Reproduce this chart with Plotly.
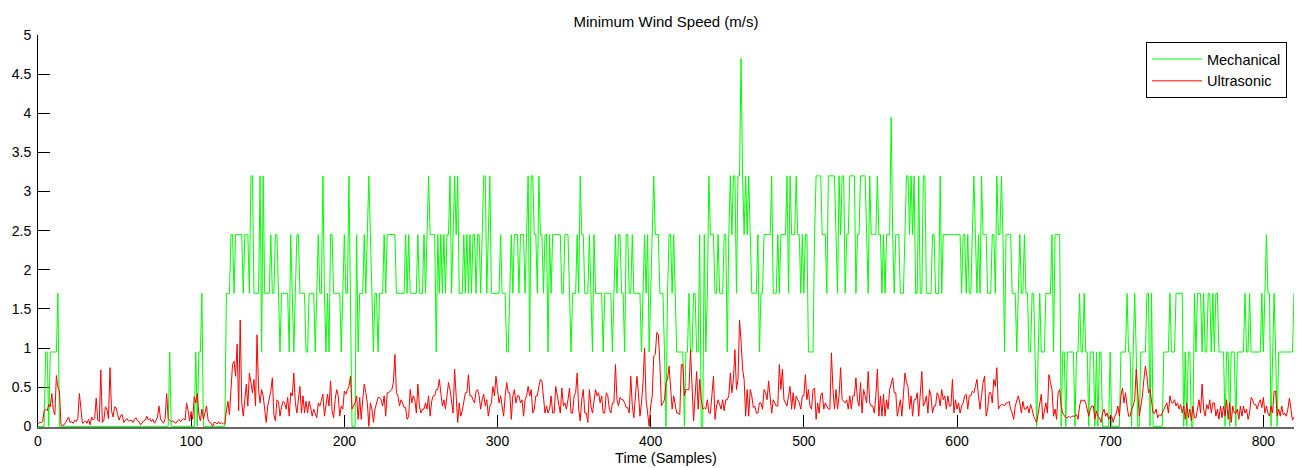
import plotly.graph_objects as go

# ---- data ----
TITLE = "Minimum Wind Speed (m/s)"
X_LABEL = "Time (Samples)"
SERIES_NAMES = ["Mechanical", "Ultrasonic"]

MECHANICAL = [
    0, 0, 0, 0, 0, 0.95, 0.95, 0, 0.95, 0.95,
    0.95, 0.95, 0.95, 1.7, 0, 0, 0, 0, 0, 0,
    0, 0, 0, 0, 0, 0, 0, 0, 0, 0,
    0, 0, 0, 0, 0, 0, 0, 0, 0, 0,
    0, 0, 0, 0, 0, 0, 0, 0, 0, 0,
    0, 0, 0, 0, 0, 0, 0, 0, 0, 0,
    0, 0, 0, 0, 0, 0, 0, 0, 0, 0,
    0, 0, 0, 0, 0, 0, 0, 0, 0, 0,
    0, 0, 0, 0, 0, 0, 0.95, 0, 0, 0,
    0, 0, 0, 0, 0, 0, 0, 0, 0, 0,
    0, 0, 0, 0.95, 0, 0.95, 0.95, 1.7, 0, 0,
    0, 0, 0, 0, 0, 0, 0, 0, 0, 0,
    0, 0, 0, 1.7, 1.7, 1.7, 2.45, 2.45, 1.7, 2.45,
    2.45, 2.45, 2.45, 2.45, 1.7, 2.45, 2.45, 2.45, 1.7, 3.2,
    3.2, 1.7, 1.7, 1.7, 1.7, 3.2, 0.95, 3.2, 1.7, 1.7,
    1.7, 1.7, 2.45, 1.7, 1.7, 2.45, 2.45, 1.7, 0.95, 1.7,
    1.7, 1.7, 1.7, 1.7, 0.95, 2.45, 1.7, 0.95, 1.7, 2.45,
    2.45, 1.7, 1.7, 1.7, 1.7, 0.95, 0.95, 1.7, 1.7, 1.7,
    1.7, 0.95, 1.7, 2.45, 1.7, 1.7, 3.2, 1.7, 0.95, 1.7,
    0.95, 2.45, 2.45, 1.7, 1.7, 1.7, 1.7, 1.7, 0.95, 1.7,
    2.45, 1.7, 1.7, 3.2, 1.7, 0, 0, 0, 2.45, 0.95,
    1.7, 1.7, 1.7, 2.45, 1.7, 2.45, 3.2, 2.45, 1.7, 0.95,
    1.7, 1.7, 0.95, 1.7, 1.7, 1.7, 2.45, 1.7, 2.45, 2.45,
    2.45, 2.45, 2.45, 2.45, 1.7, 1.7, 1.7, 1.7, 1.7, 1.7,
    2.45, 1.7, 2.45, 1.7, 1.7, 1.7, 1.7, 1.7, 2.45, 1.7,
    1.7, 1.7, 2.45, 1.7, 2.45, 3.2, 2.45, 2.45, 2.45, 2.45,
    0.95, 2.45, 1.7, 2.45, 1.7, 2.45, 1.7, 2.45, 2.45, 3.2,
    1.7, 2.45, 3.2, 2.45, 3.2, 1.7, 1.7, 1.7, 2.45, 1.7,
    2.45, 1.7, 2.45, 1.7, 2.45, 2.45, 1.7, 2.45, 2.45, 1.7,
    2.45, 3.2, 3.2, 1.7, 2.45, 3.2, 1.7, 1.7, 1.7, 1.7,
    1.7, 1.7, 2.45, 1.7, 1.7, 1.7, 0.95, 0.95, 1.7, 2.45,
    1.7, 2.45, 2.45, 2.45, 1.7, 2.45, 2.45, 2.45, 1.7, 2.45,
    3.2, 0.95, 3.2, 3.2, 2.45, 2.45, 1.7, 3.2, 2.45, 2.45,
    1.7, 2.45, 2.45, 0.95, 2.45, 1.7, 2.45, 2.45, 2.45, 2.45,
    2.45, 2.45, 1.7, 1.7, 2.45, 2.45, 2.45, 1.7, 0.95, 1.7,
    1.7, 1.7, 2.45, 1.7, 3.2, 2.45, 2.45, 1.7, 1.7, 1.7,
    2.45, 1.7, 0.95, 2.45, 1.7, 1.7, 1.7, 1.7, 1.7, 0.95,
    1.7, 1.7, 1.7, 1.7, 1.7, 0.95, 1.7, 2.45, 1.7, 2.45,
    2.45, 1.7, 1.7, 0.95, 2.45, 2.45, 1.7, 1.7, 2.45, 1.7,
    1.7, 1.7, 1.7, 1.7, 0.95, 1.7, 2.45, 1.7, 2.45, 0.95,
    1.7, 2.45, 3.2, 2.45, 2.45, 2.45, 1.7, 1.7, 1.7, 0.95,
    0, 1.7, 2.45, 2.45, 1.7, 2.45, 1.7, 0.95, 0.95, 0.95,
    0.95, 0.95, 0, 0.95, 0.95, 1.7, 0.95, 0.95, 1.7, 1.7,
    0.95, 0.95, 2.45, 0, 0, 2.45, 0.95, 1.7, 3.2, 2.45,
    2.45, 2.45, 1.7, 1.7, 2.45, 1.7, 1.7, 1.7, 2.45, 2.45,
    0.95, 2.45, 3.2, 2.45, 3.2, 3.2, 1.7, 3.2, 3.2, 4.7,
    3.2, 2.45, 3.2, 2.45, 3.2, 2.45, 1.7, 1.7, 1.7, 1.7,
    2.45, 0.95, 1.7, 1.7, 2.45, 2.45, 2.45, 2.45, 2.45, 3.2,
    1.7, 1.7, 1.7, 2.45, 1.7, 2.45, 2.45, 2.45, 2.45, 3.2,
    1.7, 3.2, 2.45, 2.45, 2.45, 3.2, 2.45, 2.45, 1.7, 2.45,
    1.7, 2.45, 2.45, 0.95, 0.95, 0.95, 0.95, 2.45, 3.2, 3.2,
    3.2, 3.2, 2.45, 2.45, 2.45, 1.7, 3.2, 3.2, 3.2, 3.2,
    3.2, 2.45, 1.7, 3.2, 2.45, 3.2, 3.2, 1.7, 2.45, 2.45,
    3.2, 3.2, 3.2, 3.2, 1.7, 2.45, 2.45, 3.2, 3.2, 3.2,
    3.2, 2.45, 1.7, 3.2, 2.45, 2.45, 2.45, 2.45, 3.2, 2.45,
    2.45, 1.7, 2.45, 1.7, 2.45, 2.45, 2.45, 3.95, 2.45, 1.7,
    2.45, 2.45, 2.45, 1.7, 1.7, 1.7, 2.45, 3.2, 3.2, 2.45,
    3.2, 2.45, 3.2, 1.7, 1.7, 3.2, 1.7, 1.7, 3.2, 3.2,
    1.7, 1.7, 1.7, 1.7, 2.45, 2.45, 1.7, 1.7, 1.7, 3.2,
    1.7, 2.45, 2.45, 2.45, 2.45, 2.45, 2.45, 2.45, 2.45, 2.45,
    2.45, 2.45, 2.45, 1.7, 2.45, 2.45, 1.7, 2.45, 1.7, 1.7,
    2.45, 3.2, 2.45, 1.7, 2.45, 1.7, 3.2, 2.45, 2.45, 2.45,
    1.7, 1.7, 1.7, 2.45, 2.45, 1.7, 3.2, 2.45, 2.45, 3.2,
    2.45, 0.95, 2.45, 2.45, 2.45, 2.45, 1.7, 1.7, 1.7, 0.95,
    1.7, 2.45, 1.7, 1.7, 2.45, 1.7, 1.7, 0.95, 0.95, 1.7,
    1.7, 0.95, 0, 0.95, 1.7, 0.95, 0.95, 0.95, 1.7, 1.7,
    1.7, 1.7, 2.45, 0.95, 2.45, 2.45, 2.45, 2.45, 0, 0.95,
    0.95, 0, 0.95, 0.95, 0.95, 0.95, 0.95, 0, 0.95, 0.95,
    1.7, 0.95, 0.95, 1.7, 0.95, 0.95, 0, 0.95, 0.95, 0.95,
    0, 0.95, 0, 0.95, 0.95, 0, 0, 0, 0, 0,
    0.95, 0, 0, 0, 0, 0, 0, 0.95, 0.95, 0.95,
    0.95, 1.7, 0.95, 0.95, 0, 0.95, 1.7, 0.95, 0, 0,
    0.95, 0.95, 0.95, 0.95, 1.7, 1.7, 0, 1.7, 0, 0,
    0, 0, 0, 0, 0, 0.95, 0.95, 0.95, 0.95, 1.7,
    0.95, 0.95, 0.95, 1.7, 1.7, 1.7, 1.7, 1.7, 0, 0.95,
    0, 0.95, 0.95, 0, 0, 1.7, 0.95, 1.7, 1.7, 1.7,
    0.95, 1.7, 0.95, 0.95, 1.7, 1.7, 0.95, 1.7, 0.95, 1.7,
    1.7, 0.95, 0.95, 0.95, 0.95, 0, 0.95, 0.95, 0, 0.95,
    0.95, 0.95, 0, 0.95, 0.95, 0.95, 0.95, 0.95, 1.7, 0.95,
    0.95, 1.7, 0.95, 0.95, 0.95, 0.95, 0.95, 0.95, 0.95, 1.7,
    0.95, 1.7, 2.45, 1.7, 1.7, 0, 0.95, 1.7, 0.95, 0,
    0.95, 0.95, 0.95, 0.95, 0.95, 0.95, 0.95, 0.95, 0.95, 0.95,
    1.7,
]

ULTRASONIC = [
    0.03, 0.05, 0.05, 0.06, 0.2, 0.22, 0.2, 0.28, 0.25, 0.42,
    0.2, 0.15, 0.65, 0.5, 0.45, 0.02, 0.01, 0.02, 0.05, 0.08,
    0.12, 0.05, 0.06, 0.04, 0.08, 0.06, 0.1, 0.42, 0.18, 0.04,
    0.05, 0.07, 0.04, 0.09, 0.02, 0.12, 0.08, 0.1, 0.36, 0.08,
    0.06, 0.72, 0.05, 0.08, 0.25, 0.22, 0.1, 0.75, 0.2, 0.12,
    0.25, 0.24, 0.15, 0.08, 0.14, 0.15, 0.05, 0.07, 0.1, 0.07,
    0.07, 0.08, 0.05, 0.09, 0.11, 0.07, 0.06, 0.02, 0.05, 0.07,
    0.08, 0.13, 0.08, 0.1, 0.06, 0.09, 0.04, 0.07, 0.12, 0.26,
    0.09, 0.06, 0.04, 0.1, 0.42, 0.1, 0.08, 0.06, 0.07, 0.06,
    0.04, 0.07, 0.09, 0.06, 0.08, 0.1, 0.08, 0.3, 0.2, 0.07,
    0.19, 0.09, 0.38, 0.3, 0.42, 0.15, 0.07, 0.22, 0.09, 0.2,
    0.26, 0.09, 0.05, 0.04, 0.0, 0.05, 0.05, 0.03, 0.06, 0.03,
    0.05, 0.03, 0.03, 0.2, 0.32, 0.15, 0.56, 0.79, 0.83, 0.64,
    1.05, 0.2, 1.36, 0.3, 0.13, 0.39, 0.54, 0.26, 0.68, 0.56,
    0.43, 0.6, 0.26, 1.17, 0.47, 0.3, 0.47, 0.39, 0.17, 0.05,
    0.26, 0.34, 0.45, 0.62, 0.15, 0.07, 0.34, 0.32, 0.13, 0.25,
    0.32, 0.3, 0.22, 0.37, 0.13, 0.43, 0.39, 0.68, 0.3, 0.17,
    0.35, 0.51, 0.17, 0.39, 0.17, 0.32, 0.17, 0.32, 0.24, 0.13,
    0.22, 0.17, 0.11, 0.3, 0.26, 0.33, 0.41, 0.13, 0.3, 0.41,
    0.26, 0.58, 0.2, 0.11, 0.34, 0.47, 0.39, 0.13, 0.26, 0.22,
    0.45, 0.41, 0.47, 0.51, 0.64, 0.22, 0.26, 0.3, 0.39, 0.09,
    0.37, 0.09, 0.34, 0.54, 0.43, 0.3, 0.0, 0.3, 0.22, 0.05,
    0.22, 0.3, 0.37, 0.37, 0.34, 0.26, 0.39, 0.13, 0.43, 0.43,
    0.45, 0.47, 0.56, 0.92, 0.43, 0.39, 0.26, 0.34, 0.3, 0.24,
    0.24, 0.09, 0.13, 0.47, 0.3, 0.39, 0.34, 0.17, 0.54, 0.26,
    0.17, 0.22, 0.22, 0.3, 0.22, 0.39, 0.13, 0.32, 0.39, 0.39,
    0.47, 0.47, 0.6, 0.43, 0.26, 0.34, 0.22, 0.39, 0.56, 0.47,
    0.3, 0.17, 0.73, 0.43, 0.05, 0.3, 0.13, 0.2, 0.34, 0.43,
    0.43, 0.66, 0.39, 0.39, 0.34, 0.3, 0.45, 0.47, 0.39, 0.22,
    0.34, 0.41, 0.26, 0.34, 0.13, 0.26, 0.3, 0.51, 0.39, 0.64,
    0.47, 0.3, 0.39, 0.22, 0.13, 0.39, 0.56, 0.43, 0.43, 0.09,
    0.39, 0.47, 0.3, 0.39, 0.39, 0.3, 0.34, 0.13, 0.34, 0.39,
    0.51, 0.39, 0.47, 0.17, 0.22, 0.39, 0.39, 0.51, 0.6, 0.58,
    0.39, 0.17, 0.26, 0.17, 0.22, 0.39, 0.17, 0.17, 0.51, 0.39,
    0.3, 0.17, 0.49, 0.26, 0.3, 0.22, 0.34, 0.49, 0.17, 0.17,
    0.39, 0.43, 0.68, 0.22, 0.07, 0.34, 0.47, 0.17, 0.17, 0.05,
    0.47, 0.26, 0.17, 0.34, 0.47, 0.39, 0.43, 0.3, 0.39, 0.17,
    0.17, 0.43, 0.39, 0.22, 0.17, 0.3, 0.3, 0.79, 0.34, 0.26,
    0.37, 0.34, 0.34, 0.3, 0.24, 0.24, 0.17, 0.64, 0.26, 0.11,
    0.39, 0.64, 0.43, 0.13, 0.3, 0.56, 1.0, 0.34, 0.17, 0.0,
    0.26, 0.39, 0.9, 0.92, 1.2, 1.17, 0.81, 0.26, 0.3, 0.34,
    0.56, 0.6, 0.77, 0.47, 0.22, 0.39, 0.3, 0.17, 0.17, 0.15,
    0.79, 0.79, 0.39, 0.47, 0.47, 0.47, 0.98, 0.51, 0.07, 0.39,
    0.7, 0.22, 0.6, 0.34, 0.22, 0.24, 0.22, 0.34, 0.17, 0.17,
    0.43, 0.64, 0.09, 0.26, 0.34, 0.26, 0.22, 0.34, 0.2, 0.34,
    0.34, 0.39, 0.68, 0.43, 0.6, 0.98, 0.47, 0.6, 1.36, 1.09,
    0.73, 0.6, 0.13, 0.47, 0.13, 0.47, 0.39, 0.24, 0.26, 0.17,
    0.17, 0.3, 0.3, 0.22, 0.47, 0.43, 0.34, 0.58, 0.39, 0.17,
    0.34, 0.3, 0.26, 0.26, 0.79, 0.47, 0.73, 0.34, 0.3, 0.26,
    0.39, 0.51, 0.22, 0.43, 0.22, 0.39, 0.34, 0.3, 0.22, 0.39,
    0.39, 0.66, 0.34, 0.47, 0.26, 0.22, 0.47, 0.49, 0.09, 0.3,
    0.17, 0.39, 0.43, 0.22, 0.3, 0.26, 0.22, 0.22, 0.94, 0.47,
    0.22, 0.47, 0.22, 0.39, 0.75, 0.34, 0.32, 0.3, 0.34, 0.22,
    0.39, 0.22, 0.39, 0.39, 0.62, 0.34, 0.26, 0.56, 0.17, 0.47,
    0.39, 0.3, 0.7, 0.3, 0.26, 0.26, 0.17, 0.39, 0.73, 0.13,
    0.39, 0.13, 0.41, 0.13, 0.34, 0.22, 0.47, 0.56, 0.62, 0.43,
    0.43, 0.13, 0.26, 0.34, 0.13, 0.43, 0.68, 0.56, 0.51, 0.22,
    0.39, 0.13, 0.34, 0.34, 0.43, 0.13, 0.39, 0.7, 0.26, 0.3,
    0.39, 0.17, 0.47, 0.39, 0.17, 0.26, 0.26, 0.43, 0.39, 0.26,
    0.47, 0.34, 0.39, 0.22, 0.39, 0.26, 0.26, 0.6, 0.17, 0.34,
    0.22, 0.3, 0.17, 0.26, 0.3, 0.39, 0.41, 0.22, 0.39, 0.39,
    0.45, 0.43, 0.51, 0.6, 0.39, 0.22, 0.39, 0.56, 0.64, 0.13,
    0.22, 0.43, 0.43, 0.3, 0.6, 0.51, 0.75, 0.22, 0.26, 0.28,
    0.28, 0.26, 0.3, 0.3, 0.32, 0.22, 0.17, 0.09, 0.26, 0.34,
    0.39, 0.3, 0.17, 0.32, 0.22, 0.22, 0.26, 0.17, 0.28, 0.22,
    0.13, 0.09, 0.05, 0.17, 0.3, 0.41, 0.09, 0.22, 0.3, 0.17,
    0.66, 0.56, 0.47, 0.13, 0.22, 0.09, 0.43, 0.47, 0.26, 0.17,
    0.13, 0.11, 0.11, 0.13, 0.11, 0.13, 0.13, 0.13, 0.15, 0.09,
    0.26, 0.34, 0.32, 0.34, 0.3, 0.22, 0.13, 0.22, 0.26, 0.26,
    0.09, 0.2, 0.13, 0.11, 0.05, 0.17, 0.22, 0.13, 0.17, 0.09,
    0.13, 0.13, 0.05, 0.13, 0.17, 0.26, 0.13, 0.39, 0.49, 0.3,
    0.43, 0.26, 0.13, 0.13, 0.22, 0.26, 0.34, 0.73, 0.47, 0.13,
    0.26, 0.39, 0.6, 0.77, 0.64, 0.43, 0.47, 0.3, 0.17, 0.17,
    0.22, 0.11, 0.15, 0.13, 0.17, 0.22, 0.26, 0.3, 0.17, 0.39,
    0.3, 0.3, 0.34, 0.26, 0.3, 0.22, 0.28, 0.17, 0.26, 0.09,
    0.3, 0.11, 0.22, 0.07, 0.26, 0.11, 0.11, 0.22, 0.34, 0.17,
    0.54, 0.22, 0.13, 0.28, 0.22, 0.34, 0.17, 0.3, 0.3, 0.13,
    0.22, 0.09, 0.26, 0.11, 0.26, 0.13, 0.34, 0.09, 0.3, 0.05,
    0.26, 0.17, 0.17, 0.22, 0.09, 0.26, 0.13, 0.26, 0.17, 0.22,
    0.09, 0.17, 0.37, 0.34, 0.28, 0.28, 0.22, 0.3, 0.34, 0.24,
    0.37, 0.17, 0.26, 0.17, 0.13, 0.26, 0.17, 0.45, 0.45, 0.13,
    0.22, 0.13, 0.26, 0.15, 0.17, 0.13, 0.22, 0.36, 0.2, 0.08,
    0.12,
]

SAMPLES = list(range(len(MECHANICAL)))

X_TICKS = [0, 100, 200, 300, 400, 500, 600, 700, 800]
Y_TICKS = [0, 0.5, 1, 1.5, 2, 2.5, 3, 3.5, 4, 4.5, 5]
Y_TICK_TEXT = ["0", "0.5", "1", "1.5", "2", "2.5", "3", "3.5", "4", "4.5", "5"]

FONT = "Liberation Sans, Arial, Helvetica, sans-serif"

fig = go.Figure()
fig.add_trace(go.Scatter(x=SAMPLES, y=MECHANICAL, mode="lines", name=SERIES_NAMES[0],
                         line=dict(color="#00ff00", width=1)))
fig.add_trace(go.Scatter(x=list(range(len(ULTRASONIC))), y=ULTRASONIC, mode="lines",
                         name=SERIES_NAMES[1], line=dict(color="#ff0000", width=1)))

fig.update_layout(
    width=1298, height=468,
    margin=dict(l=38, r=4, t=35, b=41),
    paper_bgcolor="white", plot_bgcolor="white",
    font=dict(family=FONT, size=14, color="black"),
    title=dict(text=TITLE, x=0.5, xref="paper", xanchor="center",
               y=1 - 21.5 / 468, yref="container", yanchor="middle",
               font=dict(size=15, color="black")),
    legend=dict(x=0.9944, xanchor="right", y=0.982, yanchor="top",
                bordercolor="black", borderwidth=1, bgcolor="white",
                font=dict(size=14.5), itemwidth=50, tracegroupgap=0),
    showlegend=True,
)

fig.update_xaxes(range=[0, 820], tickvals=X_TICKS, ticks="inside", ticklen=12,
                 tickcolor="black", showline=True, linecolor="#666666", linewidth=2,
                 showgrid=False, zeroline=False, layer="below traces",
                 title=dict(text=X_LABEL, font=dict(size=14.5), standoff=5),
                 tickfont=dict(size=14))
fig.update_yaxes(range=[-0.008, 5], tickvals=Y_TICKS, ticktext=Y_TICK_TEXT, ticks="inside",
                 ticklen=12, tickcolor="black", showline=True, linecolor="black",
                 linewidth=1, showgrid=False, zeroline=False, layer="below traces",
                 ticklabelstandoff=3, tickfont=dict(size=14))

fig.write_html("out.html")
